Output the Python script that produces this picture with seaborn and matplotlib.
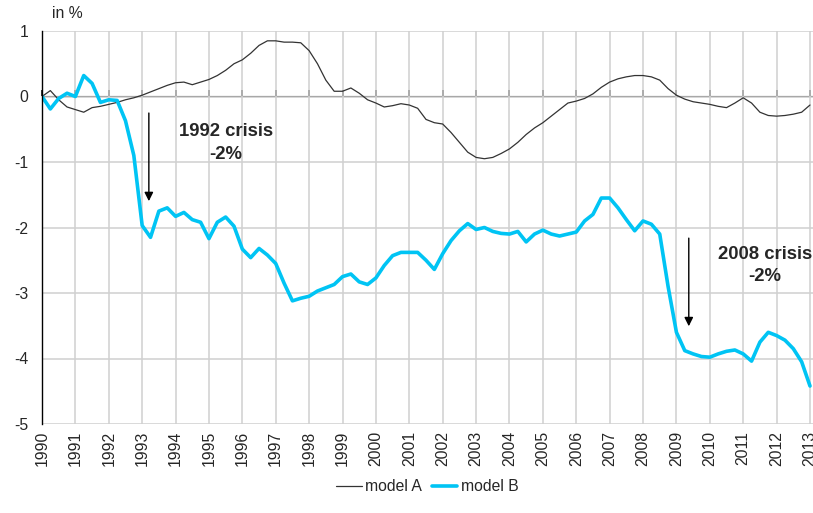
import numpy as np
import pandas as pd
import seaborn as sns
import matplotlib.pyplot as plt

# quarterly values, 1990Q1 .. 2013Q1 (in %)
model_a = [
    0.00, 0.09, -0.05, -0.16,
    -0.20, -0.24, -0.17, -0.15,
    -0.12, -0.09, -0.05, -0.02,
    0.02, 0.07, 0.12, 0.17,
    0.21, 0.22, 0.18, 0.22,
    0.26, 0.32, 0.40, 0.50,
    0.56, 0.66, 0.78, 0.85,
    0.85, 0.83, 0.83, 0.82,
    0.70, 0.50, 0.25, 0.08,
    0.08, 0.13, 0.05, -0.05,
    -0.10, -0.16, -0.14, -0.11,
    -0.13, -0.18, -0.35, -0.40,
    -0.42, -0.55, -0.70, -0.85,
    -0.93, -0.95, -0.93, -0.87,
    -0.80, -0.70, -0.58, -0.48,
    -0.40, -0.30, -0.20, -0.10,
    -0.07, -0.03, 0.04, 0.14,
    0.22, 0.27, 0.30, 0.32,
    0.32, 0.30, 0.25, 0.12,
    0.02, -0.04, -0.08, -0.10,
    -0.12, -0.15, -0.17, -0.10,
    -0.02, -0.10, -0.24, -0.29,
    -0.30, -0.29, -0.27, -0.24,
    -0.13,
]
model_b = [
    0.00, -0.19, -0.03, 0.05,
    0.00, 0.32, 0.20, -0.09,
    -0.05, -0.06, -0.37, -0.90,
    -1.97, -2.15, -1.75, -1.70,
    -1.83, -1.77, -1.88, -1.92,
    -2.17, -1.92, -1.84, -1.98,
    -2.33, -2.46, -2.32, -2.42,
    -2.55, -2.85, -3.12, -3.08,
    -3.05, -2.97, -2.92, -2.87,
    -2.75, -2.71, -2.83, -2.87,
    -2.77, -2.58, -2.43, -2.38,
    -2.38, -2.38, -2.50, -2.64,
    -2.40, -2.20, -2.05, -1.94,
    -2.03, -2.00, -2.06, -2.09,
    -2.10, -2.06, -2.22, -2.10,
    -2.04, -2.10, -2.13, -2.10,
    -2.07, -1.90, -1.80, -1.55,
    -1.55, -1.70, -1.88, -2.05,
    -1.90, -1.95, -2.10, -2.90,
    -3.60, -3.88, -3.93, -3.97,
    -3.98, -3.93, -3.89, -3.87,
    -3.93, -4.04, -3.75, -3.60,
    -3.65, -3.72, -3.85, -4.05,
    -4.42,
]
years = np.arange(1990, 2014)
y_ticks = [1, 0, -1, -2, -3, -4, -5]

t = 1990 + np.arange(len(model_a)) / 4
df = pd.DataFrame({"t": t, "model A": model_a, "model B": model_b})

sns.set_style("white")
plt.rcParams["font.family"] = ["Liberation Sans", "DejaVu Sans"]
plt.rcParams["axes.unicode_minus"] = False

fig = plt.figure(figsize=(8.13, 5.13), dpi=100)
ax = fig.add_axes([42 / 813, 1 - 424 / 513, 771 / 813, 393 / 513])

sns.lineplot(data=df, x="t", y="model A", ax=ax, color="#333333", lw=0.9, label="model A")
sns.lineplot(data=df, x="t", y="model B", ax=ax, color="#00C4F4", lw=2.6, label="model B")

ax.set_xlim(1990, 2013.09)
ax.set_ylim(-5, 1)
ax.set_xticks(years)
ax.set_xticklabels([str(y) for y in years], rotation=90, fontsize=11.3)
ax.set_yticks(y_ticks)
ax.set_yticklabels([str(v) for v in y_ticks], fontsize=11.3)
ax.set_xlabel("")
ax.set_ylabel("")
ax.grid(True, color="#d0d0d0", lw=1.1)
ax.set_axisbelow(True)
for s in ["top", "right", "bottom"]:
    ax.spines[s].set_visible(False)
ax.spines["left"].set_color("black")
ax.spines["left"].set_linewidth(1)
ax.tick_params(axis="y", direction="out", length=4, width=1, color="black", pad=6)
ax.tick_params(axis="x", length=0, pad=5)

# category axis crossing at zero
zero_frac = (0 - (-5)) / (1 - (-5))
sec = ax.secondary_xaxis(zero_frac)
sec.set_xticks(years)
sec.set_xticklabels([])
sec.tick_params(direction="out", length=4, width=1.1, color="black")
sec.spines["bottom"].set_color("black")
sec.spines["bottom"].set_linewidth(1)

fig.text(52 / 813, 1 - 13 / 513, "in %", fontsize=11.3, va="center", ha="left")

ax.annotate("", xy=(1993.2, -1.64), xytext=(1993.2, -0.21),
            arrowprops=dict(arrowstyle="-|>", color="black", lw=1, mutation_scale=13))
ax.text(1995.5, -0.71, "1992 crisis\n-2%", ha="center", va="center",
        fontsize=13.3, fontweight="bold", linespacing=1.4)
ax.annotate("", xy=(2009.37, -3.55), xytext=(2009.37, -2.12),
            arrowprops=dict(arrowstyle="-|>", color="black", lw=1, mutation_scale=13))
ax.text(2011.65, -2.58, "2008 crisis\n-2%", ha="center", va="center",
        fontsize=13.3, fontweight="bold", linespacing=1.4)

ax.legend(loc="lower center", bbox_to_anchor=(0.5, -0.215), ncol=2, frameon=False,
          fontsize=11.3, handlelength=1.6, handletextpad=0.25, columnspacing=0.6)

fig.savefig("out.png", dpi=100)
